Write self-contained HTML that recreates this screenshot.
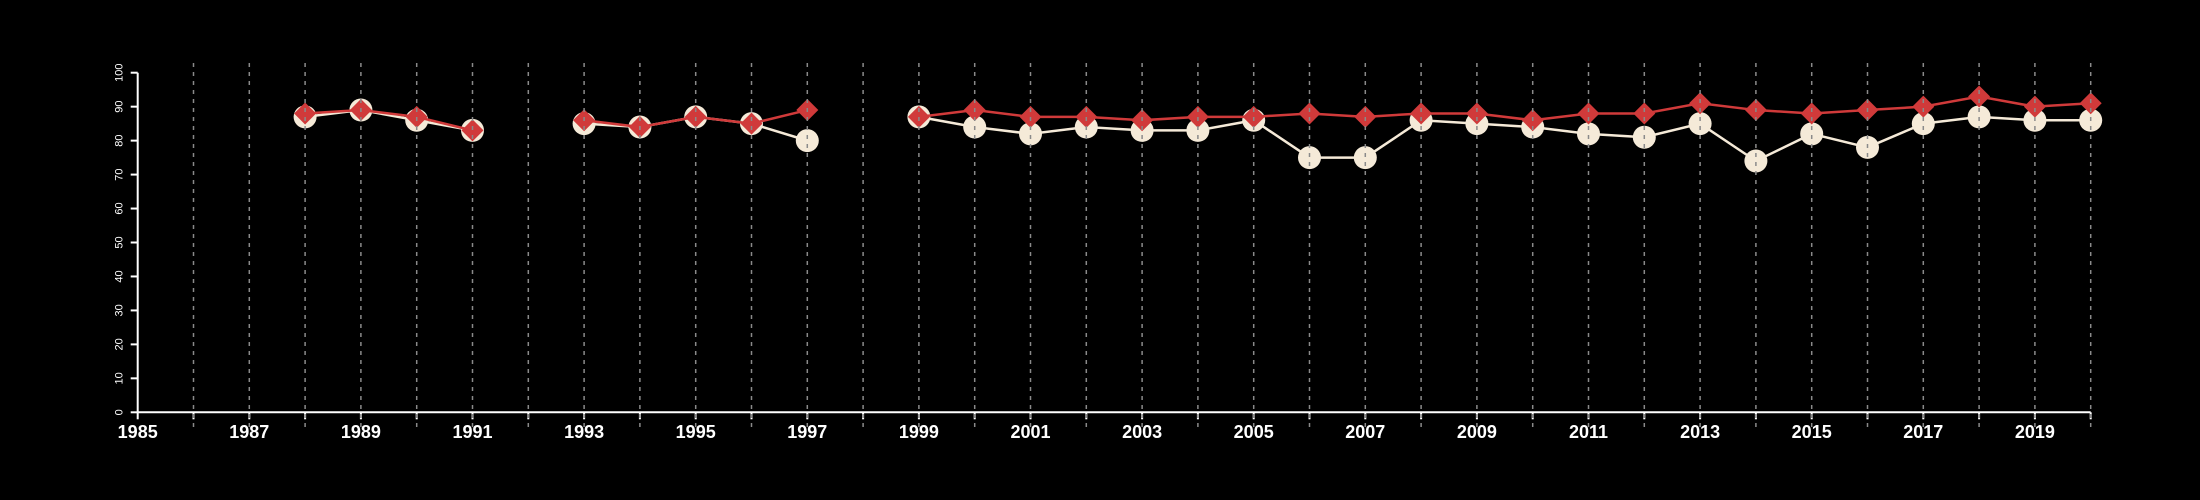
<!DOCTYPE html>
<html><head><meta charset="utf-8"><style>html,body{margin:0;padding:0;background:#000;}svg{display:block;}</style></head>
<body>
<svg id="chart" width="2200" height="500" xmlns="http://www.w3.org/2000/svg" font-family="Liberation Sans, sans-serif"></svg>
<script>
const years = [1988,1989,1990,1991,null,1993,1994,1995,1996,1997,null,1999,2000,2001,2002,2003,2004,2005,2006,2007,2008,2009,2010,2011,2012,2013,2014,2015,2016,2017,2018,2019,2020];
const seriesA = [87,89,86,83,null,85,84,87,85,80,null,87,84,82,84,83,83,86,75,75,86,85,84,82,81,85,74,82,78,85,87,86,86];
const seriesB = [88,89,87,83,null,86,84,87,85,89,null,87,89,87,87,86,87,87,88,87,88,88,86,88,88,91,89,88,89,90,93,90,91];
const yTicks = [0,10,20,30,40,50,60,70,80,90,100];
const xTickYears = [1985,1987,1989,1991,1993,1995,1997,1999,2001,2003,2005,2007,2009,2011,2013,2015,2017,2019];

const svg = document.getElementById('chart');
const NS = 'http://www.w3.org/2000/svg';
const X0 = 137.7, PXY = 55.8, Y0 = 412.3, PXV = 3.396;
const xs = y => X0 + (y - 1985) * PXY;
const ys = v => Y0 - v * PXV;
function mk(tag, attrs, parent) {
  const e = document.createElementNS(NS, tag);
  for (const k in attrs) e.setAttribute(k, attrs[k]);
  (parent || svg).appendChild(e);
  return e;
}
// axes
let e = mk('line', {x1: X0, y1: ys(0), x2: X0, y2: ys(100), stroke: '#fff', 'stroke-width': 2});


e = mk('line', {x1: X0, y1: Y0, x2: xs(2020), y2: Y0, stroke: '#fff', 'stroke-width': 2});


yTicks.forEach(v => {
  const t = mk('line', {x1: X0 - 7, y1: ys(v), x2: X0, y2: ys(v), stroke: '#fff', 'stroke-width': 2});
  
  
  const l = mk('text', {x: 0, y: 0, fill: '#fff', 'font-size': 11, 'text-anchor': 'middle', transform: `translate(${X0 - 18},${ys(v)}) rotate(-90)`, 'dominant-baseline': 'central'});
  l.textContent = v;
  
  
});
for (let y = 1985; y <= 2020; y++) {
  const t = mk('line', {x1: xs(y), y1: Y0, x2: xs(y), y2: Y0 + 7, stroke: '#fff', 'stroke-width': 2});
  
  
}
xTickYears.forEach(y => {
  const l = mk('text', {x: xs(y), y: 438, fill: '#fff', 'font-size': 18, 'font-weight': 'bold', 'text-anchor': 'middle'});
  l.textContent = y;
  
  
});
function segs(vals) {
  const out = []; let cur = [];
  vals.forEach((v, i) => {
    if (v == null || years[i] == null) { if (cur.length) out.push(cur); cur = []; }
    else cur.push(xs(years[i]) + ',' + ys(v));
  });
  if (cur.length) out.push(cur);
  return out;
}
// series A (cream circles)
segs(seriesA).forEach(s => {
  const p = mk('polyline', {points: s.join(' '), fill: 'none', stroke: '#f5ead8', 'stroke-width': 2.5});
  
  
});
seriesA.forEach((v, i) => {
  if (v == null) return;
  const c = mk('circle', {cx: xs(years[i]), cy: ys(v), r: 11.5, fill: '#f5ead8'});
  
  
});
// series B (red diamonds)
segs(seriesB).forEach(s => {
  const p = mk('polyline', {points: s.join(' '), fill: 'none', stroke: '#d03a3a', 'stroke-width': 2.5});
  
  
});
seriesB.forEach((v, i) => {
  if (v == null) return;
  const cx = xs(years[i]), cy = ys(v), r = 11;
  const d = mk('polygon', {points: `${cx},${cy - r} ${cx + r},${cy} ${cx},${cy + r} ${cx - r},${cy}`, fill: '#d03a3a'});
  
  
});
// gridlines on top
for (let y = 1986; y <= 2020; y++) {
  const g = mk('line', {x1: xs(y), y1: 63, x2: xs(y), y2: 428, stroke: '#8a8a8a', 'stroke-width': 1.5, 'stroke-dasharray': '4,5'});
  
  
}
</script>
</body></html>
